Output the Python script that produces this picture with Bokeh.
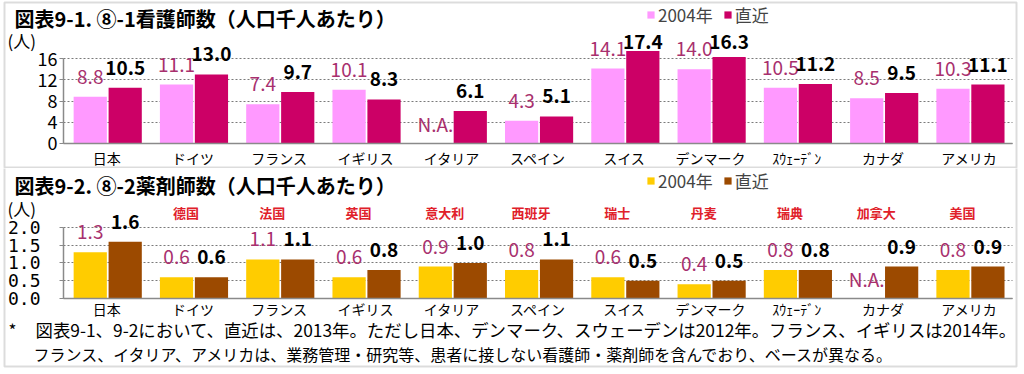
import numpy as np
from bokeh.plotting import figure
from bokeh.layouts import column
from bokeh.models import (ColumnDataSource, Range1d, FixedTicker, Legend, LegendItem, Label,
                          BoxAnnotation, PrintfTickFormatter, LinearAxis, Grid)
from bokeh.transform import dodge
from bokeh.core.properties import value
from bokeh.embed import file_html
from bokeh.resources import INLINE

# ---------------- data ----------------
countries = ["日本", "ドイツ", "フランス", "イギリス", "イタリア", "スペイン",
             "スイス", "デンマーク", "ｽｳｪｰﾃﾞﾝ", "カナダ", "アメリカ"]
chinese_names = ["", "德国", "法国", "英国", "意大利", "西班牙",
                 "瑞士", "丹麦", "瑞典", "加拿大", "美国"]
series_names = ["2004年", "直近"]
nurses_2004 = [8.8, 11.1, 7.4, 10.1, np.nan, 4.3, 14.1, 14.0, 10.5, 8.5, 10.3]
nurses_latest = [10.5, 13.0, 9.7, 8.3, 6.1, 5.1, 17.4, 16.3, 11.2, 9.5, 11.1]
pharm_2004 = [1.3, 0.6, 1.1, 0.6, 0.9, 0.8, 0.6, 0.4, 0.8, np.nan, 0.8]
pharm_latest = [1.6, 0.6, 1.1, 0.8, 1.0, 1.1, 0.5, 0.5, 0.8, 0.9, 0.9]
nurse_ticks = [0, 4, 8, 12, 16]
pharm_ticks = [0.0, 0.5, 1.0, 1.5, 2.0]
title_top = "図表9-1. ⑧-1看護師数（人口千人あたり）"
title_bot = "図表9-2. ⑧-2薬剤師数（人口千人あたり）"
unit_label = "(人)"
note_star = "*"
note_1 = "図表9-1、9-2において、直近は、2013年。ただし日本、デンマーク、スウェーデンは2012年。フランス、イギリスは2014年。"
note_2 = "フランス、イタリア、アメリカは、業務管理・研究等、患者に接しない看護師・薬剤師を含んでおり、ベースが異なる。"

JP = "Noto Sans CJK JP"
W = 1020
GRAY = "#8a8a8a"
N = len(countries)
X_START, X_END = -0.7303, N + 0.0927   # frame spans the whole canvas


def labels(vals):
    return ["N.A." if np.isnan(v) else f"{v:.1f}" for v in vals]


def label_y(vals, cap):
    a = np.array(vals, dtype=float)
    return np.where(np.isnan(a), 0.0, np.minimum(a, cap))


def build(v04, vlt, colors, height, y_range, ticks, bounds, cap, tick_font, tick_size,
          tick_standoff, x_standoff):
    xc = np.arange(N) + 0.5
    src = ColumnDataSource(dict(xc=xc, v04=v04, vlt=vlt,
                                y04=label_y(v04, cap), ylt=label_y(vlt, cap),
                                t04=labels(v04), tlt=labels(vlt), cn=chinese_names))
    p = figure(x_range=Range1d(X_START, X_END), y_range=Range1d(*y_range),
               width=W, height=height, output_backend="svg", toolbar_location=None,
               x_axis_location=None, y_axis_location=None, title=None,
               min_border=0, background_fill_color="white", border_fill_color="white")
    p.outline_line_color = None
    p.xgrid.visible = False
    p.ygrid.visible = False

    yax = LinearAxis(fixed_location=0, ticker=FixedTicker(ticks=ticks), bounds=bounds)
    yax.axis_line_color = GRAY
    yax.axis_line_width = 1.5
    yax.major_tick_line_color = GRAY
    yax.major_tick_out = 4
    yax.major_tick_in = 0
    yax.minor_tick_line_color = None
    yax.major_label_text_font = tick_font
    yax.major_label_text_font_size = tick_size
    yax.major_label_text_color = "black"
    yax.major_label_standoff = tick_standoff
    p.add_layout(yax, "left")

    xax = LinearAxis(fixed_location=0, ticker=FixedTicker(ticks=xc.tolist()),
                     bounds=(0, N))
    xax.major_label_overrides = {float(k): c for k, c in zip(xc, countries)}
    xax.axis_line_color = GRAY
    xax.axis_line_width = 1.5
    xax.major_tick_line_color = None
    xax.major_tick_out = 0
    xax.major_tick_in = 0
    xax.minor_tick_line_color = None
    xax.major_label_text_font = JP
    xax.major_label_text_font_size = "14px"
    xax.major_label_text_color = "black"
    xax.major_label_standoff = x_standoff

    grid = Grid(dimension=1, ticker=yax.ticker, grid_line_color="#7a7a7a",
                grid_line_dash="2 2", bounds=bounds)
    if "cross_bounds" in Grid.properties():
        grid.cross_bounds = (0, N)
    p.add_layout(grid)

    r04 = p.vbar(x=dodge("xc", -0.19), top="v04", width=0.385, source=src,
                 fill_color=colors[0], line_color=None)
    rlt = p.vbar(x=dodge("xc", 0.215), top="vlt", width=0.385, source=src,
                 fill_color=colors[1], line_color=None)
    p.add_layout(xax, "below")
    p.text(x=dodge("xc", -0.19), y="y04", text="t04", source=src,
           text_font=value(JP), text_font_size="19px", text_color="#a8306e",
           text_align="center", text_baseline="middle", y_offset=-20)
    p.text(x=dodge("xc", 0.215), y="ylt", text="tlt", source=src,
           text_font=value(JP), text_font_size="19px", text_font_style="bold",
           text_color="black", text_align="center", text_baseline="middle", y_offset=-20)
    return p, src, r04, rlt


def add_legend(p, r04, rlt, y):
    legend = Legend(items=[LegendItem(label=series_names[0], renderers=[r04]),
                           LegendItem(label=series_names[1], renderers=[rlt])],
                    orientation="horizontal", location=(646, y),
                    glyph_width=9, glyph_height=9, label_height=18,
                    label_text_font=JP, label_text_font_size="17px", label_standoff=3,
                    spacing=10, padding=0, margin=0, border_line_color=None,
                    background_fill_alpha=0)
    p.add_layout(legend)


def text_label(p, x, y, text, size, bold=False, color="black"):
    p.add_layout(Label(x=x, y=y, x_units="screen", y_units="screen", text=text,
                       text_font=JP, text_font_size=size,
                       text_font_style="bold" if bold else "normal",
                       text_color=color, text_baseline="middle"))


# ---------------- top panel (nurses) ----------------
H1 = 168
top, _, t04, tlt = build(nurses_2004, nurses_latest, ["#ff99ff", "#cc0066"], H1,
                         (-4.706, 26.918), nurse_ticks, (0, 16), 15.3, JP, "18px", 2, 5)
add_legend(top, t04, tlt, H1 - 27)
text_label(top, 14, H1 - 18, title_top, "20px", bold=True)
text_label(top, 7, H1 - 40, unit_label, "17px")
top.add_layout(BoxAnnotation(left=4, right=1016, top=H1 - 2, bottom=1,
                             left_units="screen", right_units="screen",
                             top_units="screen", bottom_units="screen",
                             fill_alpha=0, line_color=GRAY, line_width=2))

# ---------------- bottom panel (pharmacists) ----------------
H2 = 200
bot, bsrc, b04, blt = build(pharm_2004, pharm_latest, ["#ffcc00", "#9c4a00"], H2,
                            (-1.972, 3.662), pharm_ticks, (0, 2), 99,
                            "DejaVu Sans Mono", "18px", 19, 1)
for r in bot.left:
    r.formatter = PrintfTickFormatter(format="%.1f")
bot.text(x=dodge("xc", -0.08), y=2.42, text="cn", source=bsrc,
         text_font=value(JP), text_font_size="13px", text_font_style="bold",
         text_color="#e0202a", text_align="center", text_baseline="middle")
add_legend(bot, b04, blt, H2 - 25)
text_label(bot, 14, H2 - 17, title_bot, "20px", bold=True)
text_label(bot, 7, H2 - 40, unit_label, "17px")
text_label(bot, 8, H2 - 161, note_star, "17px")
text_label(bot, 35, H2 - 161, note_1, "17.4px")
text_label(bot, 33, H2 - 185, note_2, "16px")
bot.add_layout(BoxAnnotation(left=4, right=1016, top=H2 + 10, bottom=2,
                             left_units="screen", right_units="screen",
                             top_units="screen", bottom_units="screen",
                             fill_alpha=0, line_color=GRAY, line_width=2))

layout = column(top, bot, spacing=0)
open("out.html", "w").write(file_html(layout, INLINE))
